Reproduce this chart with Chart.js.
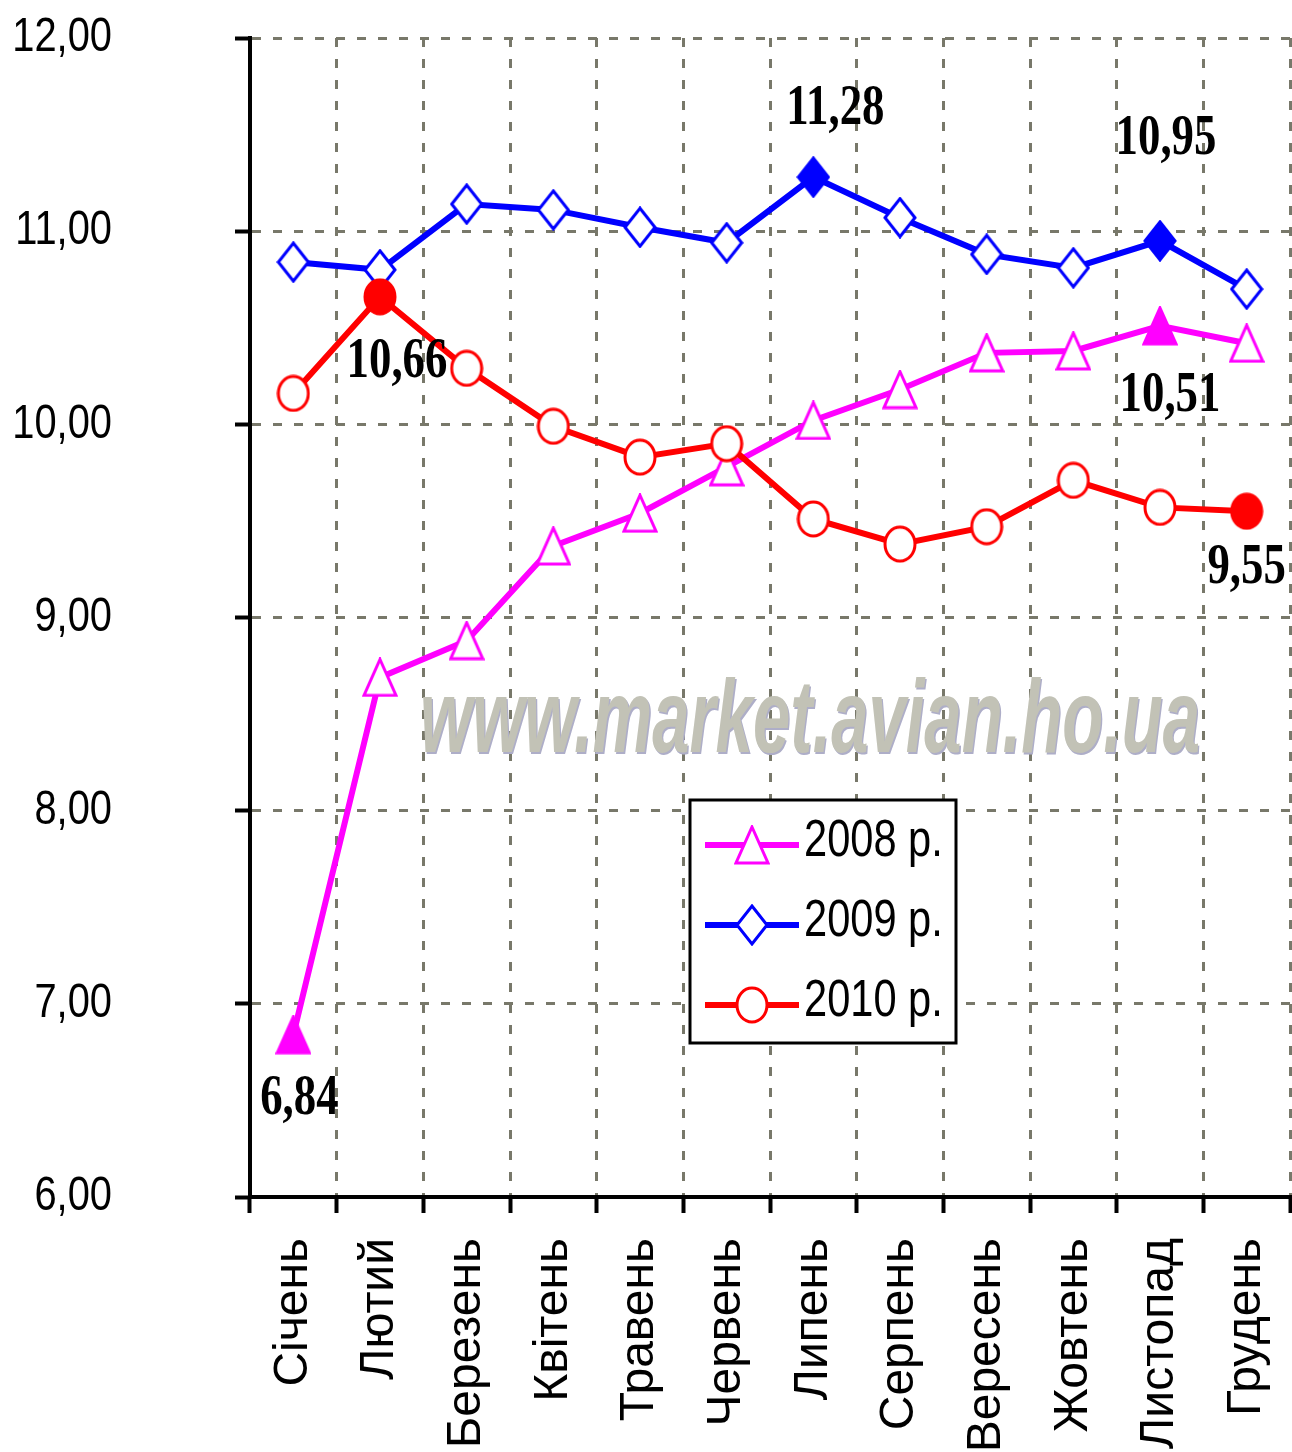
<!DOCTYPE html>
<html>
<head>
<meta charset="utf-8">
<script src="https://cdn.jsdelivr.net/npm/chart.js@4.4.0/dist/chart.umd.min.js"></script>
<style>
  html, body { margin: 0; padding: 0; background: #fff; overflow: hidden; }
  canvas { display: block; }
</style>
</head>
<body>
<canvas id="priceChart" width="1292" height="1452"></canvas>
<script>
const months = ['Січень', 'Лютий', 'Березень', 'Квітень', 'Травень', 'Червень',
                'Липень', 'Серпень', 'Вересень', 'Жовтень', 'Листопад', 'Грудень'];
const yTickLabels = ['6,00', '7,00', '8,00', '9,00', '10,00', '11,00', '12,00'];
const series2008 = [6.84, 8.69, 8.88, 9.37, 9.54, 9.78, 10.02, 10.18, 10.37, 10.38, 10.51, 10.42];
const series2009 = [10.84, 10.80, 11.14, 11.11, 11.02, 10.94, 11.28, 11.07, 10.88, 10.81, 10.95, 10.70];
const series2010 = [10.16, 10.66, 10.29, 9.99, 9.83, 9.90, 9.51, 9.38, 9.47, 9.71, 9.57, 9.55];
const seriesNames = ['2008 р.', '2009 р.', '2010 р.'];
// points that carry a value label (filled markers)
const marked2008 = [0, 10];
const marked2009 = [6, 10];
const marked2010 = [1, 11];
const watermark = 'www.market.avian.ho.ua';

const gridColor = '#78786a';
const narrowFont = '"Liberation Sans", Arial, sans-serif';

function marker(shape, color, filled) {
    const c = document.createElement('canvas');
    const w = shape === 'tri' ? 36 : 34;
    const h = shape === 'tri' ? 40 : (shape === 'diamond' ? 42 : 38);
    c.width = w;
    c.height = h;
    const g = c.getContext('2d');
    g.beginPath();
    if (shape === 'tri') {
        g.moveTo(w / 2, 2); g.lineTo(w - 2, h - 2); g.lineTo(2, h - 2); g.closePath();
    } else if (shape === 'diamond') {
        g.moveTo(w / 2, 2); g.lineTo(w - 2, h / 2); g.lineTo(w / 2, h - 2); g.lineTo(2, h / 2); g.closePath();
    } else {
        g.ellipse(w / 2, h / 2, w / 2 - 2, h / 2 - 2, 0, 0, Math.PI * 2);
    }
    g.fillStyle = filled ? color : '#fff';
    g.fill();
    g.lineWidth = 3;
    g.strokeStyle = color;
    g.stroke();
    return c;
}

function lineSet(label, data, color, shape, marked, order) {
    const hollow = marker(shape, color, false);
    const solid = marker(shape, color, true);
    return {
        label: label,
        data: data,
        borderColor: color,
        backgroundColor: color,
        borderWidth: 6,
        tension: 0,
        order: order,
        pointRadius: 17,
        pointStyle: ctx => marked.includes(ctx.dataIndex) ? solid : hollow,
        hollowMarker: hollow,
        marked: marked
    };
}

// squeezed text, the original uses a narrow bitmap font
function narrowText(ctx, text, x, y, font, sx, align) {
    ctx.save();
    ctx.translate(x, y);
    ctx.scale(sx, 1);
    ctx.font = font;
    ctx.fillStyle = '#000';
    ctx.textAlign = align;
    ctx.textBaseline = 'middle';
    ctx.fillText(text, 0, 0);
    ctx.restore();
}

const watermarkPlugin = {
    id: 'watermarkText',
    beforeDatasetsDraw(chart) {
        const ctx = chart.ctx;
        ctx.save();
        ctx.font = 'italic bold 104px "Liberation Sans", Arial, sans-serif';
        const w = ctx.measureText(watermark).width;
        ctx.translate(810, 752);
        ctx.scale(780 / w, 1);
        ctx.textAlign = 'center';
        ctx.textBaseline = 'alphabetic';
        ctx.fillStyle = '#aeaec8';
        ctx.fillText(watermark, 2, 2);
        ctx.fillStyle = '#c2c2b6';
        ctx.fillText(watermark, 0, 0);
        ctx.restore();
    }
};

const yLabels = {
    id: 'yLabels',
    afterDraw(chart, args, opts) {
        const s = chart.scales.y;
        s.ticks.forEach((t, i) => {
            narrowText(chart.ctx, yTickLabels[i], s.right - opts.gap, s.getPixelForTick(i),
                       '48px ' + narrowFont, 0.83, 'right');
        });
    }
};

const valueLabels = {
    id: 'valueLabels',
    afterDatasetsDraw(chart, args, opts) {
        chart.data.datasets.forEach((ds, di) => {
            const meta = chart.getDatasetMeta(di);
            ds.marked.forEach((idx, k) => {
                const pt = meta.data[idx];
                const off = opts.offsets[di][k];
                narrowText(chart.ctx, ds.data[idx].toFixed(2).replace('.', ','),
                           pt.x + off[0], pt.y + off[1],
                           'bold 56px "Liberation Serif", "Times New Roman", serif', 0.8, 'center');
            });
        });
    }
};

const boxLegend = {
    id: 'boxLegend',
    afterDraw(chart, args, opts) {
        const ctx = chart.ctx;
        ctx.save();
        ctx.fillStyle = '#fff';
        ctx.fillRect(opts.x, opts.y, opts.w, opts.h);
        ctx.lineWidth = 3;
        ctx.strokeStyle = '#000';
        ctx.strokeRect(opts.x, opts.y, opts.w, opts.h);
        chart.data.datasets.forEach((ds, i) => {
            const y = opts.y + 45 + i * 80;
            ctx.lineWidth = 6;
            ctx.strokeStyle = ds.borderColor;
            ctx.beginPath();
            ctx.moveTo(opts.x + 15, y);
            ctx.lineTo(opts.x + 109, y);
            ctx.stroke();
            const m = ds.hollowMarker;
            ctx.drawImage(m, opts.x + 62 - m.width / 2, y - m.height / 2);
            narrowText(ctx, ds.label, opts.x + 114, y - 3, '52px ' + narrowFont, 0.8, 'left');
        });
        ctx.restore();
    }
};

const ctx = document.getElementById('priceChart').getContext('2d');

new Chart(ctx, {
    type: 'line',
    data: {
        labels: months,
        datasets: [
            lineSet(seriesNames[0], series2008, '#ff00ff', 'tri', marked2008, 3),
            lineSet(seriesNames[1], series2009, '#0000ff', 'diamond', marked2009, 2),
            lineSet(seriesNames[2], series2010, '#ff0000', 'circle', marked2010, 1)
        ]
    },
    plugins: [watermarkPlugin, valueLabels, yLabels, boxLegend],
    options: {
        responsive: false,
        animation: false,
        layout: { autoPadding: false, padding: { top: 38, right: 2, left: 0, bottom: 0 } },
        plugins: {
            legend: { display: false },
            tooltip: { enabled: false },
            valueLabels: {
                offsets: [
                    [[6, 65], [10, 71]],
                    [[22, -68], [6, -101]],
                    [[17, 66], [0, 57]]
                ]
            },
            yLabels: { gap: 138 },
            boxLegend: { x: 690, y: 800, w: 266, h: 243 }
        },
        scales: {
            x: {
                offset: true,
                grid: { offset: true, color: gridColor, lineWidth: 3, tickLength: 16, tickColor: '#000', tickWidth: 4 },
                border: { color: '#000', width: 4, dash: [9, 12] },
                ticks: {
                    autoSkip: false,
                    minRotation: 90,
                    maxRotation: 90,
                    padding: 25,
                    color: '#000',
                    font: { family: '"Liberation Sans", Arial, sans-serif', size: 48 }
                },
                afterFit(scale) {
                    scale.height = 255;
                    scale.paddingLeft = 0;
                    scale.paddingRight = 0;
                }
            },
            y: {
                min: 6,
                max: 12,
                grid: { color: gridColor, lineWidth: 3, tickLength: 15, tickColor: '#000', tickWidth: 4 },
                border: { color: '#000', width: 4, dash: [9, 12] },
                ticks: { stepSize: 1, display: false },
                afterFit(scale) {
                    scale.width = 250;
                    scale.paddingTop = 0;
                    scale.paddingBottom = 0;
                }
            }
        }
    }
});
</script>
</body>
</html>
